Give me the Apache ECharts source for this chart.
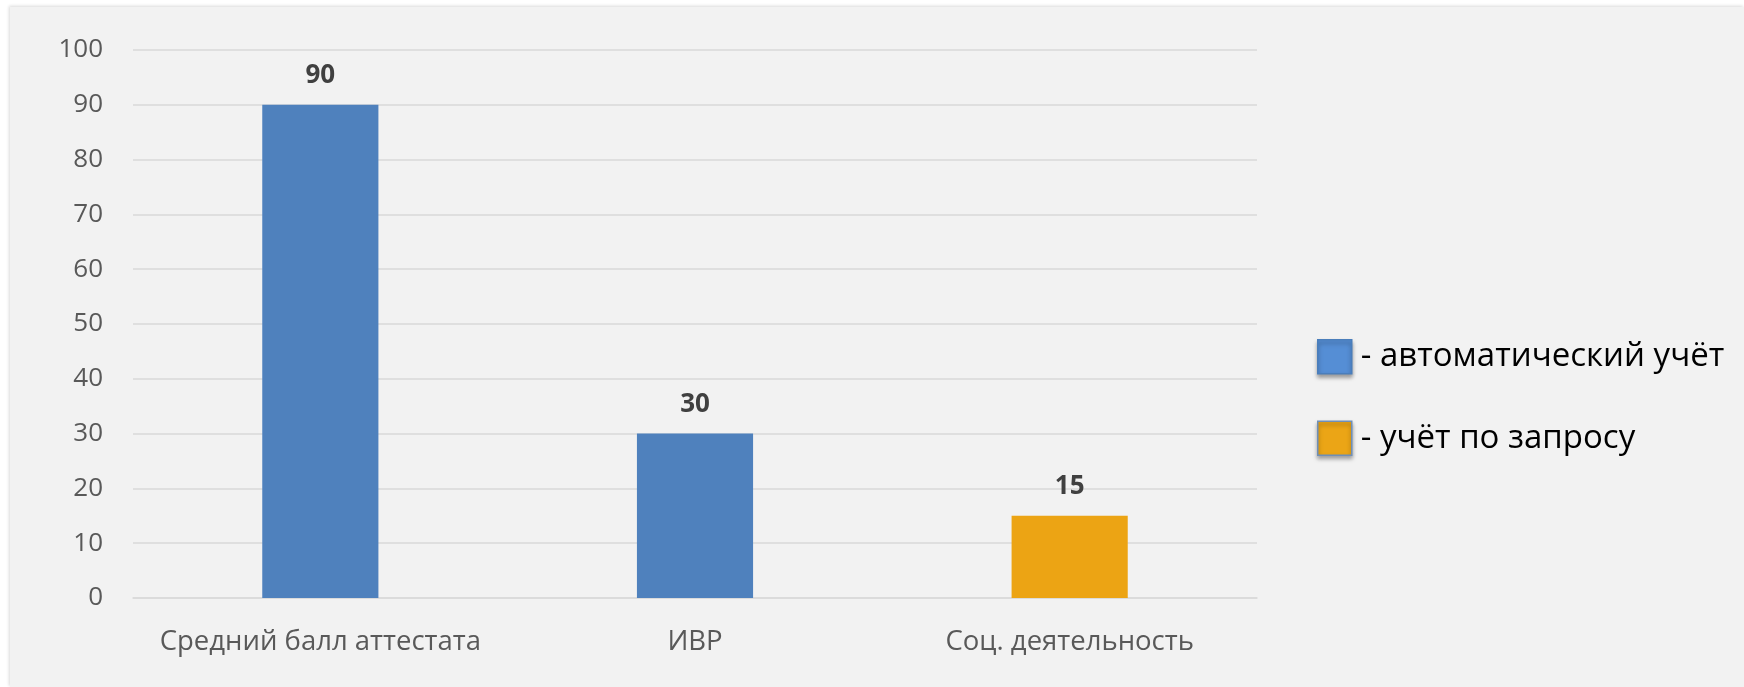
<!DOCTYPE html>
<html>
<head>
<meta charset="utf-8">
<script src="https://cdn.jsdelivr.net/npm/echarts@6/dist/echarts.min.js"></script>
<style>
  html, body { margin: 0; padding: 0; background: #ffffff; }
  #chart {
    position: absolute;
    left: 10px;
    top: 7px;
    width: 1734px;
    height: 680px;
    background: #f2f2f2;
    box-shadow: -1px -1px 3px rgba(0, 0, 0, 0.15);
  }
</style>
</head>
<body>
<div id="chart"></div>
<script>
// categories and values
var categories = ["Средний балл аттестата", "ИВР", "Соц. деятельность"];
var autoValues = [90, 30, "-"];
var requestValues = ["-", "-", 15];
var seriesNames = ["- автоматический учёт", "- учёт по запросу"];
var yTicks = { min: 0, max: 100, interval: 10 };

var font = "'Open Sans', 'Noto Sans', sans-serif";

var oChart = echarts.init(document.getElementById("chart"));

var barLabel = {
  show: true,
  position: "top",
  distance: 16,
  color: "#404040",
  fontWeight: "bold",
  fontSize: 26,
  fontFamily: font,
};

oChart.setOption({
  animation: false,
  grid: {
    left: 123,
    top: 43,
    width: 1124,
    height: 548,
  },
  legend: {
    orient: "vertical",
    left: 1302,
    top: 327,
    itemWidth: 34,
    itemHeight: 34,
    itemGap: 46,
    icon: "rect",
    textStyle: {
      color: "#000000",
      fontSize: 33,
      fontFamily: font,
      padding: [0, 0, 0, 4],
    },
    data: [
      {
        name: seriesNames[0],
        itemStyle: {
          color: "#558ed5",
          borderColor: "#4a7ebb",
          borderWidth: 1.5,
          shadowColor: "rgba(0,0,0,0.35)",
          shadowBlur: 4,
          shadowOffsetY: 3,
        },
      },
      {
        name: seriesNames[1],
        itemStyle: {
          color: "#eba516",
          borderColor: "#6f8fb8",
          borderWidth: 1.5,
          shadowColor: "rgba(0,0,0,0.35)",
          shadowBlur: 4,
          shadowOffsetY: 3,
        },
      },
    ],
  },
  xAxis: {
    type: "category",
    data: categories,
    axisLine: { show: true, lineStyle: { color: "#d9d9d9", width: 1.5 } },
    axisTick: { show: false },
    axisLabel: {
      interval: 0,
      color: "#595959",
      fontSize: 27.5,
      fontFamily: font,
      margin: 30,
    },
  },
  yAxis: {
    type: "value",
    min: yTicks.min,
    max: yTicks.max,
    interval: yTicks.interval,
    axisLine: { show: false },
    axisTick: { show: false },
    splitLine: { lineStyle: { color: "#d9d9d9", width: 1.5 } },
    axisLabel: {
      color: "#595959",
      fontSize: 26,
      fontFamily: font,
      margin: 30,
    },
  },
  series: [
    {
      name: seriesNames[0],
      type: "bar",
      stack: "all",
      barWidth: "31%",
      itemStyle: { color: "#4f81bd" },
      label: barLabel,
      data: autoValues,
    },
    {
      name: seriesNames[1],
      type: "bar",
      stack: "all",
      barWidth: "31%",
      itemStyle: { color: "#eca414" },
      label: barLabel,
      data: requestValues,
    },
  ],
});
</script>
</body>
</html>
